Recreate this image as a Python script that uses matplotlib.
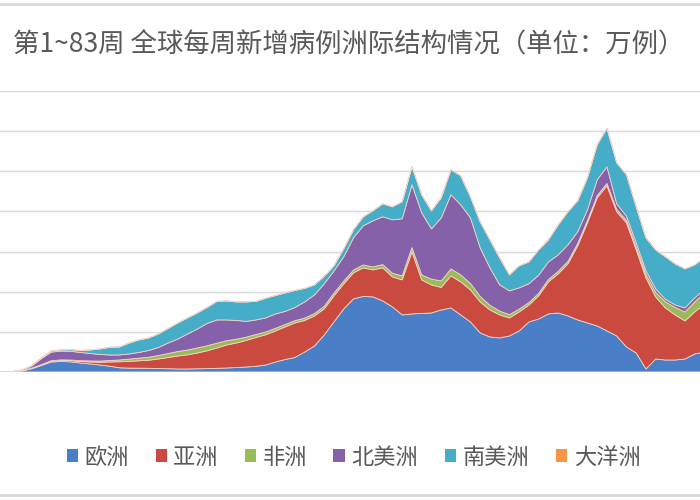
import numpy as np
import matplotlib
matplotlib.use('Agg')
import matplotlib.pyplot as plt
from matplotlib.patches import Patch

plt.rcParams['font.family'] = ['Noto Sans CJK SC', 'DejaVu Sans']

# 第1~83周 每周新增病例（万例）
weeks = np.arange(1, 84)

europe = [0, 0, 0, 0, 0, 0.2, 2.5, 8.2, 16.2, 24.9,
          26.2, 25.4, 22.4, 20.0, 17.5, 14.5, 10.5, 9.7, 9.5, 9.2,
          8.7, 8.2, 7.5, 7.5, 8.0, 8.5, 9.2, 10.0, 11.2, 12.5,
          14.2, 17.5, 24.9, 31.2, 36.2, 49.9, 64.8, 92.3, 124.7, 157.1,
          182.1, 188.3, 187.1, 177.1, 162.1, 142.2, 144.7, 145.9, 147.1, 154.6,
          159.6, 142.2, 124.7, 97.3, 87.3, 84.8, 89.8, 102.3, 124.7, 132.0,
          144.7, 147.1, 139.7, 129.7, 122.2, 114.7, 102.3, 89.8, 62.4, 47.4,
          7.5, 32.4, 29.9, 29.9, 32.4, 44.9, 49.9, 55, 58, 60,
          60, 62, 62]

asia = [0.2, 1.2, 2.0, 2.2, 0.9, 0.8, 1.0, 1.5, 2.0, 2.5,
        2.8, 3.0, 3.7, 5.0, 6.7, 10.5, 15.0, 17.0, 18.5, 20.2,
        23.7, 27.9, 32.4, 35.4, 39.4, 44.4, 50.6, 57.4, 61.1, 66.1,
        71.8, 75.3, 77.3, 81.1, 86.0, 78.6, 74.8, 64.8, 64.8, 62.4,
        64.8, 71.1, 67.3, 82.3, 74.8, 87.3, 154.6, 83.5, 69.8, 56.1,
        79.8, 82.3, 79.8, 77.3, 67.3, 57.4, 44.9, 47.4, 42.0, 58.0,
        79.8, 97.3, 129.7, 184.6, 249.4, 319.2, 361.6, 309.3, 309.3, 256.9,
        227.0, 154.6, 129.7, 112.2, 94.8, 104.7, 119.7, 130, 140, 150,
        160, 165, 165]

africa = [0, 0, 0, 0, 0, 0.01, 0.05, 0.1, 0.4, 0.7,
          1.2, 1.5, 2.0, 2.5, 3.0, 3.7, 4.5, 5.5, 6.5, 7.5,
          8.7, 10.0, 11.2, 12.0, 12.5, 12.5, 12.0, 10.7, 9.5, 8.2,
          7.5, 7.0, 6.5, 6.0, 5.7, 5.7, 6.0, 6.5, 7.0, 7.0,
          7.0, 7.2, 7.5, 8.2, 9.0, 10.0, 10.7, 12.5, 14.5, 16.2,
          17.5, 17.5, 16.2, 13.7, 11.5, 9.5, 8.0, 7.0, 6.2, 6.2,
          6.2, 6.2, 6.2, 6.0, 6.0, 5.7, 5.7, 6.0, 6.5, 7.5,
          9.0, 11.2, 15.0, 18.7, 22.4, 24.9, 27.4, 27, 25, 22,
          20, 18, 16]

north_america = [0, 0, 0, 0, 0, 0.1, 1.0, 5.0, 14.7, 21.4,
                 21.9, 21.7, 20.5, 18.7, 16.5, 13.7, 12.5, 12.7, 14.2, 16.7,
                 20.0, 26.2, 31.2, 39.9, 47.4, 55.6, 57.9, 51.6, 46.6, 39.2,
                 36.2, 34.9, 35.9, 32.7, 32.9, 40.4, 46.4, 55.9, 55.0, 60.4,
                 80.3, 97.5, 114.7, 119.0, 133.2, 142.2, 156.3, 154.5, 125.1, 157.0,
                 184.6, 174.6, 163.4, 121.0, 93.3, 65.3, 59.4, 52.9, 47.0, 45.0,
                 43.6, 41.2, 41.2, 28.9, 26.4, 39.2, 41.6, 14.0, 10.0, 10.0,
                 8.7, 8.7, 6.2, 6.2, 10.0, 10.0, 10.0, 12, 18, 25,
                 35, 45, 55]

south_america = [0, 0, 0, 0, 0, 0, 0.2, 1.0, 2.0, 3.0,
                 3.0, 4.0, 5.0, 8.7, 13.7, 19.2, 20.0, 27.4, 31.2, 31.2,
                 33.7, 36.2, 39.9, 39.9, 39.9, 39.9, 46.1, 47.4, 46.1, 48.6,
                 46.1, 49.1, 46.1, 46.1, 42.4, 33.7, 24.9, 18.7, 12.9, 20.0,
                 20.0, 22.4, 24.9, 32.4, 32.4, 42.4, 45.0, 45.0, 45.0, 50.0,
                 62.4, 72.3, 52.4, 64.8, 69.8, 67.3, 39.9, 54.9, 54.4, 63.0,
                 54.9, 74.8, 82.3, 77.3, 79.8, 87.3, 96.0, 102.3, 103.3, 89.8,
                 82.1, 97.3, 106.0, 102.3, 97.3, 82.3, 77.3, 70, 60, 55,
                 50, 45, 40]

oceania = [0, 0, 0, 0, 0, 0, 0, 0.1, 0.3, 0.4,
           0.2, 0.1, 0.05, 0.05, 0.05, 0.05, 0.05, 0.05, 0.05, 0.05,
           0.05, 0.1, 0.2, 0.25, 0.3, 0.3, 0.3, 0.25, 0.2, 0.15,
           0.1, 0.05, 0.05, 0.05, 0.05, 0.05, 0.05, 0.05, 0.05, 0.05,
           0.05, 0.05, 0.05, 0.05, 0.05, 0.05, 0.05, 0.05, 0.05, 0.05,
           0.05, 0.05, 0.05, 0.05, 0.05, 0.05, 0.05, 0.05, 0.05, 0.05,
           0.05, 0.05, 0.05, 0.05, 0.05, 0.05, 0.05, 0.05, 0.05, 0.05,
           0.05, 0.1, 0.1, 0.1, 0.15, 0.2, 0.3, 0.4, 0.5, 0.6,
           0.8, 1.0, 1.2]

labels = ['欧洲', '亚洲', '非洲', '北美洲', '南美洲', '大洋洲']
colors = ['#4A7EC7', '#CB4A40', '#9BBB59', '#8461A8', '#45ADC8', '#F79646']

fig = plt.figure(figsize=(7, 5), dpi=100)
ax = fig.add_axes([0, 0.256, 1, 0.562])

ax.stackplot(weeks, europe, asia, africa, north_america, south_america, oceania,
             colors=colors, edgecolor='#F3D3C3', linewidth=0.6, zorder=2)

ax.set_xlim(4.744, 76.54)
ax.set_ylim(0, 700)
ax.set_yticks(np.arange(0, 701, 100))
ax.set_xticks([])
ax.grid(axis='y', color='#D9D9D9', linewidth=1)
ax.set_axisbelow(True)
ax.axhline(0, color='#D9D9D9', linewidth=1, zorder=3)
ax.tick_params(left=False, labelleft=False)
for s in ax.spines.values():
    s.set_visible(False)

fig.text(13 / 700, 1 - 45 / 500, '第1~83周 全球每周新增病例洲际结构情况（单位：万例）',
         fontsize=19, color='#595959', ha='left', va='center')

handles = [Patch(facecolor=c) for c in colors]
fig.legend(handles, labels, loc='center', bbox_to_anchor=(0.505, 1 - 457 / 500),
           ncol=6, frameon=False, handlelength=0.5, handleheight=0.5,
           handletextpad=0.3, columnspacing=1.2, fontsize=16, labelcolor='#595959')

# 外框线
fig.add_artist(plt.Line2D([0, 1], [0.992, 0.992], color='#D9D9D9', linewidth=2))
fig.add_artist(plt.Line2D([0, 1], [0.01, 0.01], color='#D9D9D9', linewidth=2))

fig.savefig('out.png', dpi=100)
